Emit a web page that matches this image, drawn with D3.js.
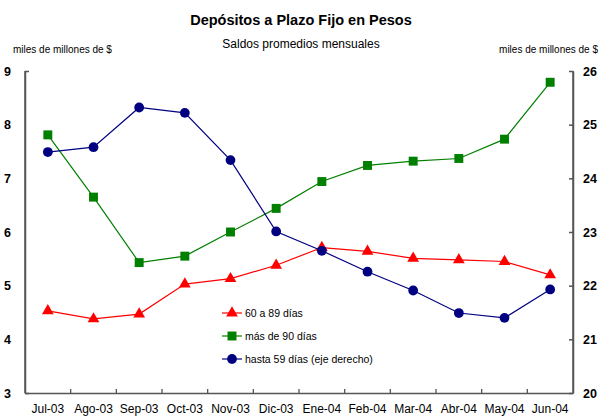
<!DOCTYPE html>
<html>
<head>
<meta charset="utf-8">
<script src="https://cdn.jsdelivr.net/npm/d3@7"></script>
<style>
  body { margin: 0; background: #fff; }
  svg { font-family: "Liberation Sans", Arial, sans-serif; }
</style>
</head>
<body>
<svg id="chart" width="601" height="417"></svg>
<script>
var months = ["Jul-03", "Ago-03", "Sep-03", "Oct-03", "Nov-03", "Dic-03", "Ene-04", "Feb-04", "Mar-04", "Abr-04", "May-04", "Jun-04"];
// left axis series
var dias60a89 = [4.53, 4.38, 4.47, 5.03, 5.13, 5.38, 5.71, 5.64, 5.51, 5.48, 5.45, 5.20];
var mas90 = [7.81, 6.65, 5.43, 5.55, 6.00, 6.44, 6.94, 7.24, 7.32, 7.37, 7.73, 8.79];
// right axis series
var hasta59 = [24.49, 24.58, 25.32, 25.22, 24.34, 23.01, 22.65, 22.26, 21.91, 21.49, 21.40, 21.93];
var leftTicks = [3, 4, 5, 6, 7, 8, 9];
var rightTicks = [20, 21, 22, 23, 24, 25, 26];

var svg = d3.select("#chart");
var plotLeft = 25, plotRight = 573, plotTop = 71, plotBottom = 393;

var x = d3.scaleBand().domain(months).range([plotLeft, plotRight]).padding(0);
var yL = d3.scaleLinear().domain([3, 9]).range([plotBottom, plotTop]);
var yR = d3.scaleLinear().domain([20, 26]).range([plotBottom, plotTop]);
var cx = function(d, i) { return x(months[i]) + x.bandwidth() / 2; };

// titles
svg.append("text").attr("x", 301).attr("y", 25).attr("text-anchor", "middle")
  .attr("font-size", 14.5).attr("font-weight", "bold").text("Depósitos a Plazo Fijo en Pesos");
svg.append("text").attr("x", 301).attr("y", 48).attr("text-anchor", "middle")
  .attr("font-size", 12).text("Saldos promedios mensuales");
svg.append("text").attr("x", 13).attr("y", 53).attr("font-size", 10).text("miles de millones de $");
svg.append("text").attr("x", 598).attr("y", 53).attr("text-anchor", "end").attr("font-size", 10).text("miles de millones de $");

// axes
var axisColor = "#555";
var fmt = d3.format("d");
var gl = svg.append("g").attr("transform", "translate(" + plotLeft + ",0)")
  .call(d3.axisLeft(yL).tickValues(leftTicks).tickFormat(fmt).tickSizeInner(0).tickSizeOuter(-4).tickPadding(14));
var gr = svg.append("g").attr("transform", "translate(" + plotRight + ",0)")
  .call(d3.axisRight(yR).tickValues(rightTicks).tickFormat(fmt).tickSizeInner(-4).tickSizeOuter(0).tickPadding(10));
var gx = svg.append("g").attr("transform", "translate(0," + plotBottom + ")")
  .call(d3.axisBottom(x).tickSize(0).tickSizeOuter(0).tickPadding(11));

[gl, gr].forEach(function(g) {
  g.selectAll("text").attr("font-size", 12.5).attr("font-weight", "bold").attr("fill", "#000")
    .attr("font-family", "Liberation Sans, Arial, sans-serif");
});
gx.selectAll("text").attr("font-size", 12).attr("fill", "#000").attr("font-family", "Liberation Sans, Arial, sans-serif");
svg.selectAll(".domain, .tick line").attr("stroke", axisColor).attr("stroke-width", 1.5);

// vertical axis lines drawn explicitly as well
svg.append("g").selectAll("line")
  .data([plotLeft, plotRight])
  .enter().append("line")
    .attr("x1", function(d) { return d; })
    .attr("x2", function(d) { return d; })
    .attr("y1", plotTop)
    .attr("y2", plotBottom)
    .attr("stroke", axisColor).attr("stroke-width", 1.5);

// category separator ticks on x axis
svg.append("g").selectAll("line")
  .data(months.slice(1))
  .enter().append("line")
    .attr("x1", function(d) { return x(d); })
    .attr("x2", function(d) { return x(d); })
    .attr("y1", plotBottom)
    .attr("y2", plotBottom - 4)
    .attr("stroke", axisColor).attr("stroke-width", 1.3);

var series = [
  { name: "más de 90 días", data: mas90, y: yL, color: "#008000", marker: d3.symbolSquare, size: 80 },
  { name: "60 a 89 días", data: dias60a89, y: yL, color: "#ff0000", marker: d3.symbolTriangle, size: 60 },
  { name: "hasta 59 días (eje derecho)", data: hasta59, y: yR, color: "#000080", marker: d3.symbolCircle, size: 75 }
];

series.forEach(function(s) {
  var line = d3.line().x(cx).y(function(d) { return s.y(d); });
  svg.append("path").datum(s.data).attr("d", line)
    .attr("fill", "none").attr("stroke", s.color).attr("stroke-width", 1.2);
  svg.append("g").selectAll("path")
    .data(s.data)
    .enter().append("path")
      .attr("d", d3.symbol().type(s.marker).size(s.size))
      .attr("transform", function(d, i) { return "translate(" + cx(d, i) + "," + s.y(d) + ")"; })
      .attr("fill", s.color);
});

// legend
var legendOrder = [series[1], series[0], series[2]];
var legend = svg.append("g").selectAll("g")
  .data(legendOrder)
  .enter().append("g")
    .attr("transform", function(d, i) { return "translate(222," + (313 + i * 23) + ")"; });
legend.append("line").attr("x1", 0).attr("x2", 20).attr("y1", 0).attr("y2", 0)
  .attr("stroke", function(d) { return d.color; }).attr("stroke-width", 1.2);
legend.append("path")
  .attr("d", function(d) { return d3.symbol().type(d.marker).size(d.size)(); })
  .attr("transform", "translate(10,0)")
  .attr("fill", function(d) { return d.color; });
legend.append("text").attr("x", 23).attr("y", 4).attr("font-size", 10.5)
  .text(function(d) { return d.name; });
</script>
</body>
</html>
